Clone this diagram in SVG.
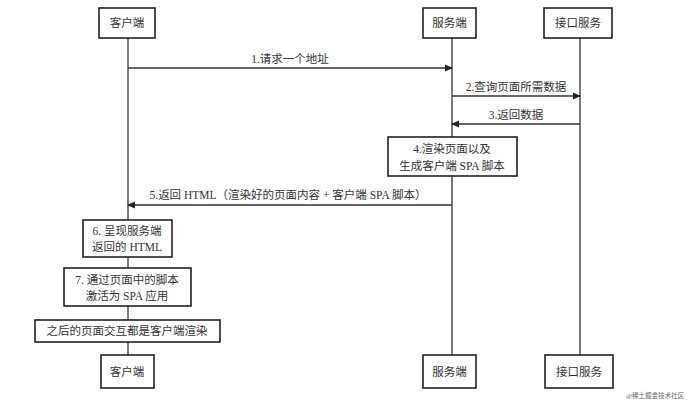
<svg xmlns="http://www.w3.org/2000/svg" width="687" height="409" viewBox="0 0 687 409">
<style>
rect{fill:#fff;stroke:#222;stroke-width:1.6}
text{font-family:"Liberation Serif","Noto Sans CJK SC",serif;font-size:11.5px;fill:#333;text-anchor:middle}
.l{stroke:#333;stroke-width:1.3;fill:none}
</style>
<defs><marker id="a" markerWidth="8" markerHeight="8" refX="7" refY="4" orient="auto" markerUnits="userSpaceOnUse"><path d="M0,0.5 L8,4 L0,7.5z" fill="#222"/></marker></defs>
<g id="connectors">
<line class="l" x1="128" y1="38" x2="128" y2="355"/>
<line class="l" x1="452" y1="38" x2="452" y2="355"/>
<line class="l" x1="580" y1="38" x2="580" y2="355"/>
<line class="l" x1="128" y1="68" x2="452" y2="68" marker-end="url(#a)"/>
<text x="290" y="63">1.请求一个地址</text>
<line class="l" x1="452" y1="96" x2="580" y2="96" marker-end="url(#a)"/>
<text x="516" y="91">2.查询页面所需数据</text>
<line class="l" x1="580" y1="124" x2="452" y2="124" marker-end="url(#a)"/>
<text x="516" y="119">3.返回数据</text>
<line class="l" x1="452" y1="205" x2="128" y2="205" marker-end="url(#a)"/>
<text x="288" y="199">5.返回 HTML（渲染好的页面内容 + 客户端 SPA 脚本）</text>
</g>
<g id="client-top"><rect x="99" y="8" width="56" height="30"/><text x="127" y="27">客户端</text></g>
<g id="server-top"><rect x="423" y="8" width="53" height="30"/><text x="449.5" y="27">服务端</text></g>
<g id="api-top"><rect x="544" y="8" width="68" height="30"/><text x="578" y="27">接口服务</text></g>
<g id="step4"><rect x="388" y="137" width="129" height="39"/><text x="452" y="153">4.渲染页面以及</text><text x="452" y="170">生成客户端 SPA 脚本</text></g>
<g id="step6"><rect x="83" y="220" width="89" height="37"/><text x="127" y="235">6. 呈现服务端</text><text x="127" y="251">返回的 HTML</text></g>
<g id="step7"><rect x="64" y="268" width="127" height="38"/><text x="127" y="284">7. 通过页面中的脚本</text><text x="127" y="300">激活为 SPA 应用</text></g>
<g id="step8"><rect x="35" y="320" width="185" height="22"/><text x="127" y="335">之后的页面交互都是客户端渲染</text></g>
<g id="client-bottom"><rect x="101" y="355" width="53" height="33"/><text x="127" y="376">客户端</text></g>
<g id="server-bottom"><rect x="423" y="355" width="53" height="33"/><text x="449.5" y="376">服务端</text></g>
<g id="api-bottom"><rect x="545" y="355" width="68" height="33"/><text x="579" y="376">接口服务</text></g>
<text x="655" y="398" style="font-size:6.5px;fill:#666">@稀土掘金技术社区</text>
</svg>
